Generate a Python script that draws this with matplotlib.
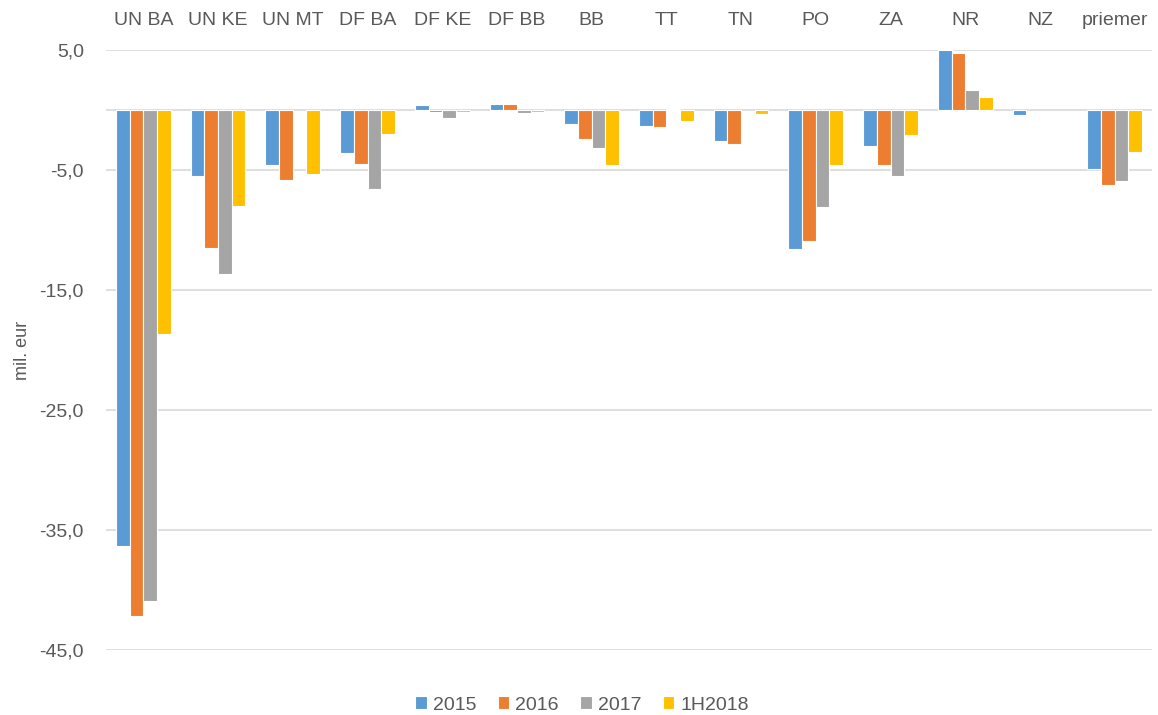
import matplotlib
matplotlib.use('Agg')
import matplotlib.pyplot as plt
from matplotlib.ticker import FuncFormatter
import numpy as np

categories = ['UN BA', 'UN KE', 'UN MT', 'DF BA', 'DF KE', 'DF BB', 'BB', 'TT',
              'TN', 'PO', 'ZA', 'NR', 'NZ', 'priemer']
series_names = ['2015', '2016', '2017', '1H2018']

v2015 = [-36.3, -5.5, -4.6, -3.6, 0.45, 0.5, -1.15, -1.35, -2.55, -11.6, -3.0, 5.0, -0.4, -4.95]
v2016 = [-42.2, -11.5, -5.8, -4.5, -0.2, 0.5, -2.4, -1.45, -2.8, -10.9, -4.6, 4.75, 0.0, -6.25]
v2017 = [-40.9, -13.7, 0.0, -6.6, -0.65, -0.27, -3.15, 0.05, 0.0, -8.1, -5.5, 1.7, 0.0, -5.9]
v1h2018 = [-18.7, -8.0, -5.35, -2.0, -0.2, -0.2, -4.55, -0.95, -0.35, -4.55, -2.1, 1.05, 0.0, -3.5]

colors = ['#5B9BD5', '#ED7D31', '#A5A5A5', '#FFC000']
text_color = '#595959'
plt.rcParams['font.family'] = ['Liberation Sans', 'DejaVu Sans']

fig = plt.figure(figsize=(11.58, 7.15), dpi=100)
ax = fig.add_axes([106 / 1158, 0.0909, 1046 / 1158, 0.8392])

x = np.arange(len(categories))
bar_w = 0.183
for i, (vals, name) in enumerate(zip([v2015, v2016, v2017, v1h2018], series_names)):
    vals = np.array(vals)
    nz = vals != 0
    ax.bar(x[nz] + (i - 1.5) * bar_w, vals[nz], width=bar_w, color=colors[i],
           edgecolor='white', linewidth=0.8, label=name, zorder=3)

ax.set_xlim(-0.5, len(categories) - 0.5)
ax.set_ylim(-45, 5)
ax.set_yticks([5, -5, -15, -25, -35, -45])
ax.yaxis.set_major_formatter(FuncFormatter(lambda v, p: f'{v:.1f}'.replace('.', ',')))
ax.grid(axis='y', color='#D9D9D9', linewidth=1.2, zorder=0)
ax.axhline(0, color='#D9D9D9', linewidth=1.2, zorder=1)

ax.xaxis.tick_top()
ax.set_xticks(x)
ax.set_xticklabels(categories)
ax.tick_params(axis='both', length=0, labelsize=14, labelcolor=text_color)
ax.tick_params(axis='x', pad=15)
ax.tick_params(axis='y', pad=16)
for s in ax.spines.values():
    s.set_visible(False)

ax.set_ylabel('mil. eur', fontsize=13, color=text_color, labelpad=6)

ax.legend(loc='lower center', bbox_to_anchor=(0.455, -0.135), ncol=4, frameon=False,
          fontsize=14, labelcolor=text_color, handlelength=0.6, handleheight=0.6,
          handletextpad=0.3, columnspacing=1.1)

fig.savefig('out.png', dpi=100)
